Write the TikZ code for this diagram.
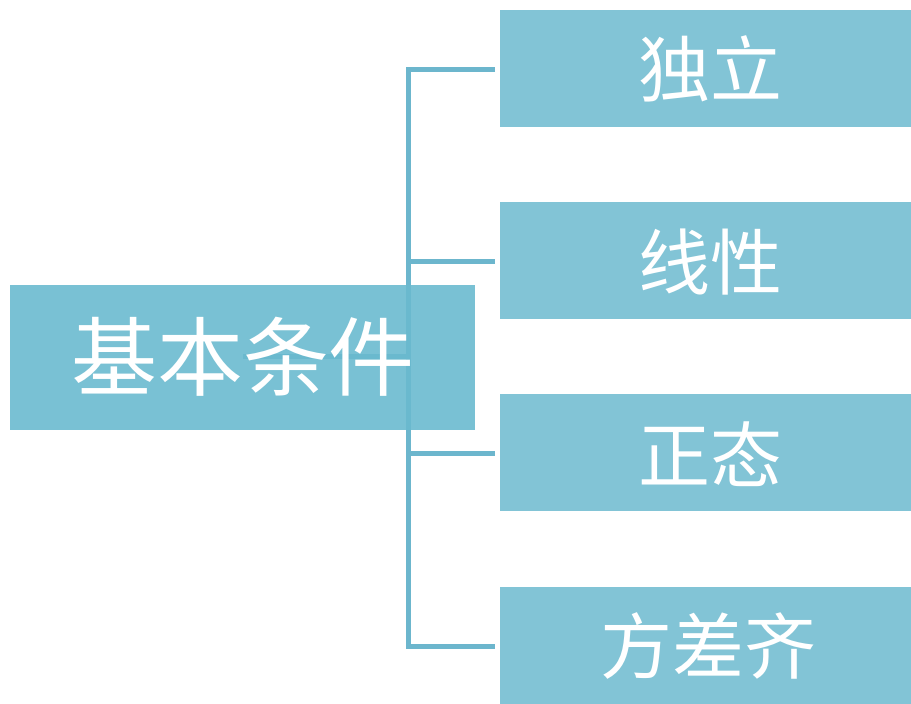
\documentclass[tikz,border=0pt]{standalone}
\usepackage{fontspec}
\newfontfamily\cjk{Noto Sans CJK SC}
\definecolor{boxR}{HTML}{82C4D6}
\definecolor{boxM}{HTML}{6ABACF}
\definecolor{lineC}{HTML}{6CB6CD}
\tikzset{
  x=1pt, y=-1pt,
  rbox/.style={fill=boxR, draw=none, minimum width=411pt, minimum height=117pt, inner sep=0pt, anchor=north west},
  mbox/.style={fill=boxM, fill opacity=0.9, draw=none, minimum width=465pt, minimum height=145pt, inner sep=0pt, anchor=north west},
  rtext/.style={text=white, font=\cjk\fontsize{72}{74}\selectfont},
  mtext/.style={text=white, font=\cjk\fontsize{86}{88}\selectfont},
  conn/.style={draw=lineC, line width=5pt}
}
\begin{document}
\begin{tikzpicture}
\useasboundingbox (0,0) rectangle (911,704);
\node[rbox] (a) at (500,10) {};
\node[rbox] (b) at (500,202) {};
\node[rbox] (c) at (500,394) {};
\node[rbox] (d) at (500,587) {};
\node[rtext] (ta) at (710,69) {独立};
\node[rtext] (tb) at (710,262) {线性};
\node[rtext] (tc) at (710,454) {正态};
\node[rtext] (td) at (708,646) {方差齐};
\coordinate (j) at (408.5,356);
\coordinate (ja) at (495,69);
\coordinate (jd) at (495,646);
\coordinate (jb) at (495,261);
\coordinate (jc) at (495,453);
\draw[conn] (ja) -| (408.5,646) -- (jd);
\draw[conn] (408.5,261) -- (jb);
\draw[conn] (408.5,453) -- (jc);
\draw[conn] (243,356) -- (j);
\node[mbox] (m) at (10,285) {};
\node[mtext] (tm) at (243,357) {基本条件};
\end{tikzpicture}
\end{document}
